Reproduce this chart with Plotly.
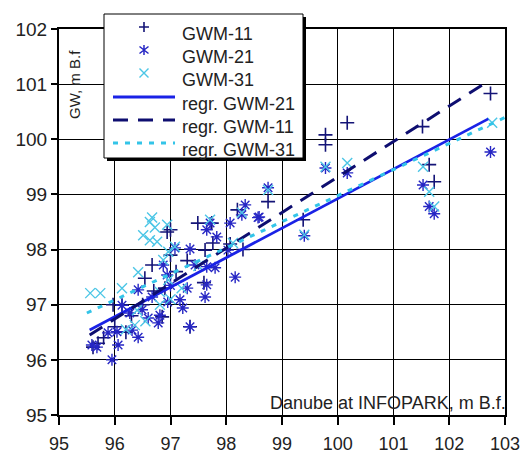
import plotly.graph_objects as go

# ---- data ----
gwm11_x = [102.74, 100.17, 99.78, 99.78, 101.52, 101.64, 101.73, 98.75, 99.38, 97.49, 97.74, 98.20,
           97.62, 96.94, 97.00, 96.67, 96.54, 96.85, 95.61, 96.13, 97.35, 98.07, 97.76, 97.30, 97.10,
           96.90, 96.50, 96.30, 96.00, 95.80, 96.20, 97.60, 98.30, 97.00, 96.70, 95.70, 95.97]
gwm11_y = [100.83, 100.30, 100.08, 99.90, 100.23, 99.54, 99.23, 98.87, 98.54, 98.48, 98.48, 98.72,
           97.99, 98.32, 98.36, 97.72, 97.48, 96.78, 96.23, 96.99, 96.60, 98.10, 98.12, 97.80, 97.60,
           97.30, 97.00, 96.80, 96.60, 96.40, 96.50, 97.40, 98.00, 97.90, 97.25, 96.30, 97.00]

gwm21_x = [102.74, 101.53, 101.64, 101.73, 100.17, 99.78, 99.40, 98.75, 98.34, 98.28, 98.59, 98.07,
           97.65, 97.83, 98.03, 97.08, 97.35, 97.65, 97.80, 98.16, 97.65, 97.62, 97.30, 97.17, 97.22,
           96.60, 96.78, 96.42, 96.13, 96.31, 96.04, 95.88, 95.59, 95.68, 96.06, 95.95, 96.42, 97.35,
           96.81, 96.94, 96.87, 96.67, 96.49, 96.27, 97.44, 97.00, 96.95, 98.57, 97.71]
gwm21_y = [99.77, 99.17, 98.78, 98.65, 99.39, 99.48, 98.25, 99.12, 98.81, 98.63, 98.59, 98.48,
           98.36, 98.23, 97.99, 98.03, 98.01, 97.69, 97.67, 97.50, 97.36, 97.14, 97.30, 97.09, 96.94,
           96.76, 96.67, 97.27, 96.99, 96.54, 96.51, 96.49, 96.27, 96.23, 96.27, 96.00, 96.41, 96.60,
           96.81, 97.54, 97.72, 97.14, 96.91, 96.85, 97.72, 97.35, 97.05, 98.58, 98.48]

gwm31_x = [102.77, 100.17, 99.78, 101.53, 101.64, 101.73, 99.40, 98.75, 96.63, 96.51, 96.94, 96.63,
           96.76, 96.42, 95.56, 95.74, 96.13, 96.87, 96.96, 97.08, 96.72, 96.81, 96.96, 97.71,
           98.28, 98.12, 96.81, 96.36, 97.20, 97.50, 96.55, 96.20, 97.00, 96.40, 96.67]
gwm31_y = [100.30, 99.57, 99.50, 99.50, 99.05, 98.78, 98.27, 99.08, 98.50, 98.26, 98.45, 98.17,
           98.14, 97.59, 97.21, 97.21, 97.30, 97.81, 97.96, 98.05, 98.40, 97.23, 97.45, 98.54,
           98.67, 98.12, 97.00, 96.63, 97.30, 97.70, 96.70, 96.55, 97.10, 96.90, 98.58]

regr21_x = [95.55, 102.70]
regr21_y = [96.54, 100.37]
regr11_x = [95.55, 102.60]
regr11_y = [96.45, 100.99]
regr31_x = [95.50, 103.05]
regr31_y = [96.85, 100.42]

x_ticks = [95, 96, 97, 98, 99, 100, 101, 102, 103]
y_ticks = [95, 96, 97, 98, 99, 100, 101, 102]
x_range = [95, 103]
y_range = [95, 102]

legend_names = ["GWM-11", "GWM-21", "GWM-31", "regr. GWM-21", "regr. GWM-11", "regr. GWM-31"]

# ---- styles ----
FONT = "Liberation Sans, Arial"
TXT = "#222"
NAVY = "#141477"
BLUE = "#2626c4"
CYAN = "#4cc6e6"
LBLUE = "#1a22e6"
DNAVY = "#0e0e70"
LCYAN = "#33c4e8"

m11 = dict(symbol="cross-thin-open", size=10, color=NAVY, line=dict(color=NAVY, width=1.6))
m21 = dict(symbol="asterisk-open", size=10, color=BLUE, line=dict(color=BLUE, width=1.4))
m31 = dict(symbol="x-thin-open", size=10, color=CYAN, line=dict(color=CYAN, width=1.4))
l21 = dict(color=LBLUE, width=2.8)
l11 = dict(color=DNAVY, width=3, dash="15px,10px")
l31 = dict(color=LCYAN, width=3, dash="5px,7px")

# plot area in pixels (fig 528x456)
L, R, T, B = 59, 505, 29, 415
def px(p):
    return (p - L) / (R - L)
def py(p):
    return (B - p) / (B - T)

fig = go.Figure()
fig.add_trace(go.Scatter(x=gwm11_x, y=gwm11_y, mode="markers", name=legend_names[0], marker=m11))
fig.add_trace(go.Scatter(x=gwm21_x, y=gwm21_y, mode="markers", name=legend_names[1], marker=m21))
fig.add_trace(go.Scatter(x=gwm31_x, y=gwm31_y, mode="markers", name=legend_names[2], marker=m31))
fig.add_trace(go.Scatter(x=regr21_x, y=regr21_y, mode="lines", name=legend_names[3], line=l21))
fig.add_trace(go.Scatter(x=regr11_x, y=regr11_y, mode="lines", name=legend_names[4], line=l11))
fig.add_trace(go.Scatter(x=regr31_x, y=regr31_y, mode="lines", name=legend_names[5], line=l31))

# ---- hand-built legend box (pixel layout, drawn above the axes) ----
box = dict(x0=104, x1=303, y0=14, y1=158)
rows = [27, 50, 73, 97, 120, 143]
sym_x = 144
line_x0, line_x1 = 113, 175
text_x = 180
text_dy = 7

def seg_path(segs):
    return " ".join(f"M{px(a):.5f},{py(b):.5f} L{px(c):.5f},{py(d):.5f}" for a, b, c, d in segs)

shapes = [
    dict(type="rect", xref="paper", yref="paper", x0=px(box["x0"] + 3), x1=px(box["x1"] + 3),
         y0=py(box["y1"] + 3), y1=py(box["y0"] + 3), fillcolor="black", line=dict(width=0),
         layer="above"),
    dict(type="rect", xref="paper", yref="paper", x0=px(box["x0"]), x1=px(box["x1"]),
         y0=py(box["y1"]), y1=py(box["y0"]), fillcolor="white",
         line=dict(color="black", width=1), layer="above"),
]
r0, r1, r2 = rows[0], rows[1], rows[2]
sym_paths = [
    (seg_path([(sym_x - 5, r0, sym_x + 5, r0), (sym_x, r0 - 5, sym_x, r0 + 5)]), NAVY, 1.6),
    (seg_path([(sym_x, r1 - 5, sym_x, r1 + 5), (sym_x - 4.5, r1 - 3.5, sym_x + 4.5, r1 + 3.5),
               (sym_x - 4.5, r1 + 3.5, sym_x + 4.5, r1 - 3.5)]), BLUE, 1.5),
    (seg_path([(sym_x - 4.5, r2 - 4.5, sym_x + 4.5, r2 + 4.5),
               (sym_x - 4.5, r2 + 4.5, sym_x + 4.5, r2 - 4.5)]), CYAN, 1.4),
]
for path, col, w in sym_paths:
    shapes.append(dict(type="path", xref="paper", yref="paper", path=path,
                       line=dict(color=col, width=w), layer="above"))
for i, ln in zip([3, 4, 5], [l21, l11, l31]):
    shapes.append(dict(type="line", xref="paper", yref="paper", x0=px(line_x0), x1=px(line_x1),
                       y0=py(rows[i]), y1=py(rows[i]), line=ln, layer="above"))

annotations = [
    dict(text=name, xref="paper", yref="paper", x=px(text_x), y=py(rows[i] + text_dy), xanchor="left",
         yanchor="middle", showarrow=False, font=dict(family=FONT, size=18, color=TXT))
    for i, name in enumerate(legend_names)
]
annotations += [
    dict(text="GW, m B.f", xref="paper", yref="paper", x=px(75), y=py(85), xanchor="center",
         yanchor="middle", textangle=-90, showarrow=False, font=dict(family=FONT, size=15, color=TXT)),
    dict(text="Danube at INFOPARK, m B.f.", xref="paper", yref="paper", x=px(508), y=py(403),
         xanchor="right", yanchor="middle", showarrow=False, font=dict(family=FONT, size=18, color=TXT)),
]

axis_common = dict(showgrid=True, gridcolor="black", gridwidth=1, showline=True,
                   linecolor="black", linewidth=2, mirror=True, ticks="outside",
                   tickwidth=1.5, tickcolor="black", zeroline=False, automargin=False)

fig.update_layout(
    width=528, height=456,
    margin=dict(l=L, r=528 - R, t=T, b=456 - B),
    paper_bgcolor="white", plot_bgcolor="white",
    font=dict(family=FONT, color=TXT),
    showlegend=False,
    xaxis=dict(range=x_range, tickvals=x_ticks, ticktext=[str(v) for v in x_ticks],
               ticklen=8, ticklabelstandoff=3, tickfont=dict(family=FONT, size=18, color=TXT),
               **axis_common),
    yaxis=dict(range=y_range, tickvals=y_ticks, ticktext=[str(v) for v in y_ticks],
               ticklen=6, tickfont=dict(family=FONT, size=19, color=TXT), **axis_common),
    shapes=shapes,
    annotations=annotations,
)

fig.write_html("out.html")
